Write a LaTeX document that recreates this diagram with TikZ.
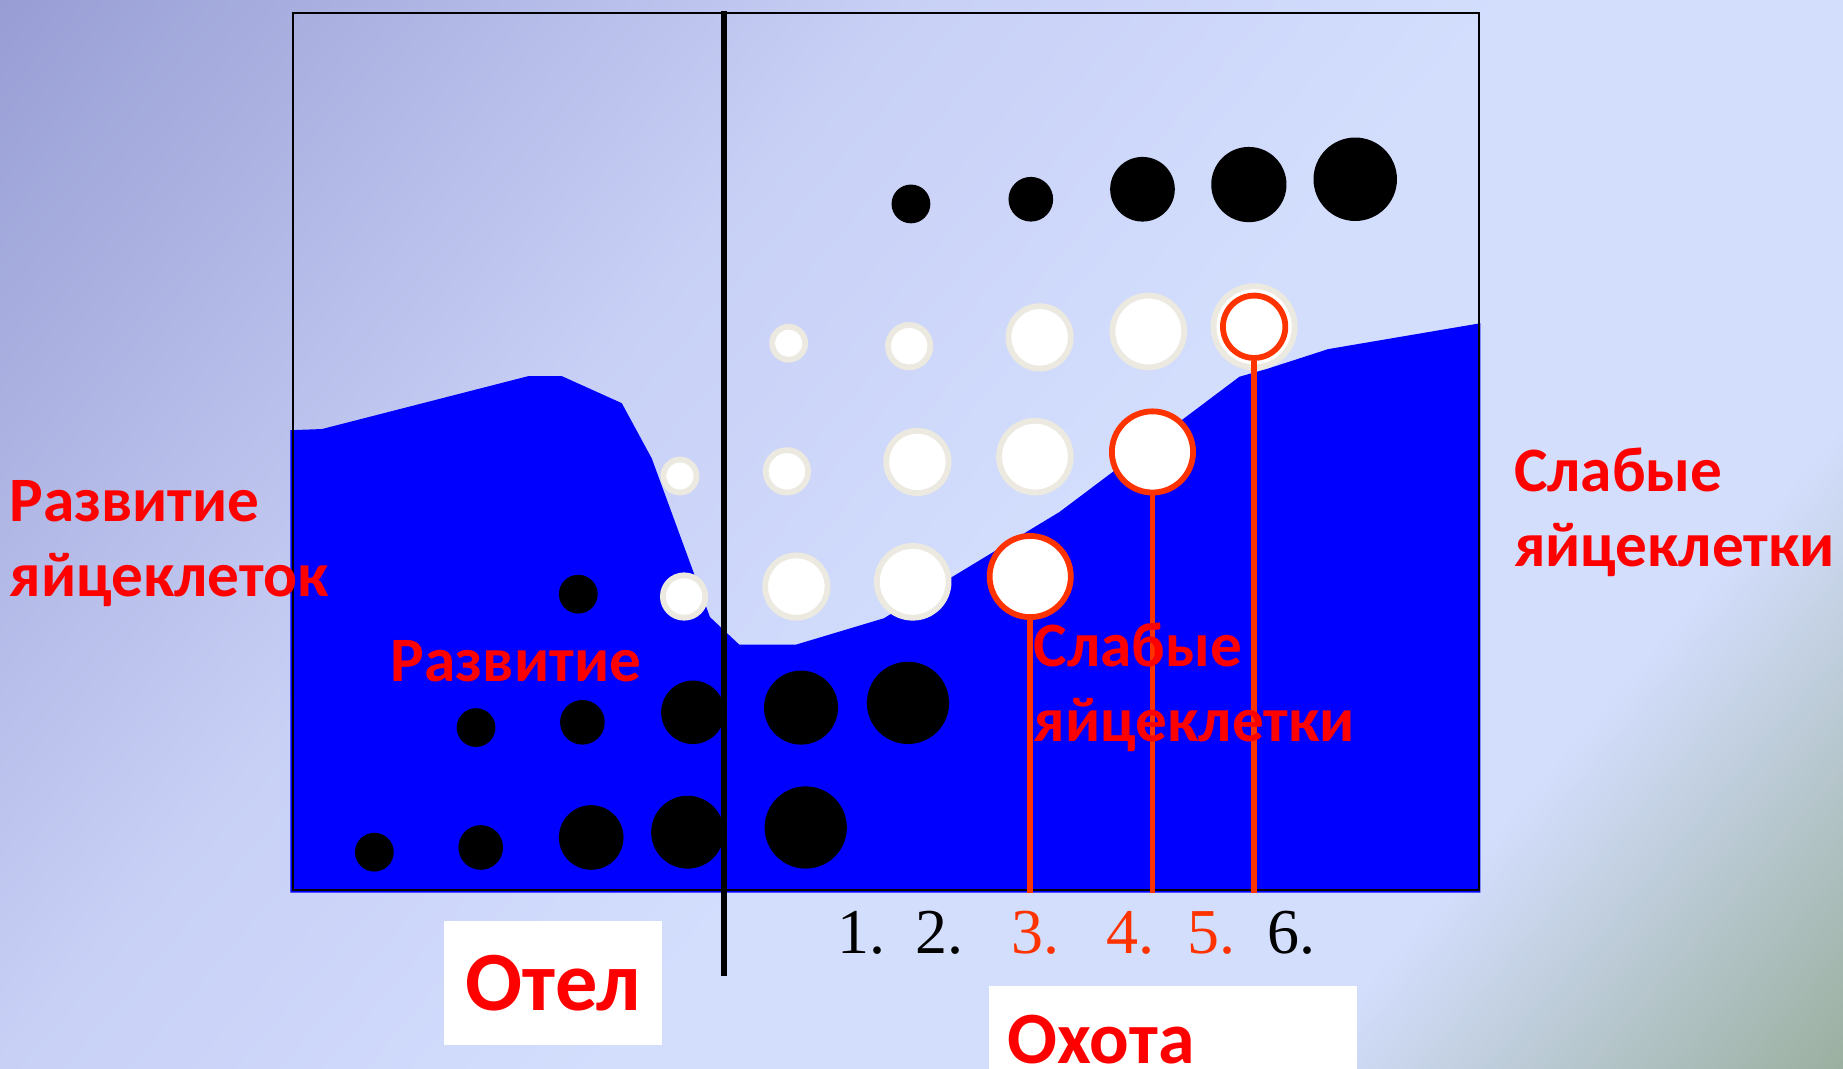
\documentclass[tikz,border=0pt]{standalone}
\usepackage{fontspec}
\setmainfont{Carlito}
\newfontfamily\numfont{Liberation Serif}
\usetikzlibrary{positioning}
\definecolor{bgdark}{RGB}{152,158,212}
\definecolor{bgmid}{RGB}{200,208,246}
\definecolor{bglight}{RGB}{211,222,253}
\definecolor{bgsage}{RGB}{155,176,160}
\definecolor{fluid}{RGB}{0,0,255}
\definecolor{ringgray}{RGB}{236,233,224}
\definecolor{eggred}{RGB}{255,51,0}
\definecolor{labelred}{RGB}{255,0,0}
\pgfdeclarehorizontalshading{paper}{100bp}{color(0bp)=(bgdark); color(25bp)=(bgdark);
  color(41.5bp)=(bgmid); color(52.5bp)=(bglight); color(65bp)=(bglight);
  color(75bp)=(bgsage); color(100bp)=(bgsage)}
\tikzset{
  egg/.style={circle, fill=black, inner sep=0pt, minimum size=#1*0.11754mm},
  weakegg/.style={circle, fill=white, draw=ringgray, line width=0.58mm, inner sep=0pt,
                  minimum size=#1*0.11754mm-0.58mm},
  redegg/.style={weakegg=#1, draw=eggred},
  stalk/.style={draw=eggred, line width=0.55mm},
  frameline/.style={draw=black, line width=0.2mm},
  divider/.style={draw=black, line width=0.6mm},
  tag/.style={font=\bfseries\fontsize{18}{21.3}\selectfont, text=labelred,
              inner sep=0pt, align=left, anchor=base west},
  num/.style={font=\numfont\fontsize{18.2}{20}\selectfont, inner sep=0pt, anchor=base},
  namebox/.style={fill=white, text=labelred, inner sep=0pt, text depth=0pt},
}
\begin{document}
\begin{tikzpicture}[x=0.11754mm, y=-0.11754mm]
\useasboundingbox (0,0) rectangle (1568,909);
\clip (0,0) rectangle (1568,909);

% ---------------- backdrop ----------------
\shade[shading=paper, shading angle=-40.5] (-107,-437) rectangle (1675,1346);

% ---------------- fluid level and frame ----------------
\fill[fluid] (247,759.5) -- (247,366) -- (274,365) -- (449.5,320) -- (478,320)
  -- (529,343) -- (554.5,390) -- (604,525) -- (629,548.5) -- (677,548.5)
  -- (752,526) -- (901.5,435.5) -- (1054.5,320.5) -- (1077.5,314) -- (1130,297)
  -- (1259.5,275) -- (1259.5,759.5) -- cycle;
\draw[frameline] (249,11) rectangle (1258,757.5);

% ---------------- eggs above the fluid ----------------
\node[egg=33] (t1) at (775,173.5) {};
\node[egg=38] (t2) at (877,169.5) {};
\node[egg=55] (t3) at (972,161) {};
\node[egg=64] (t4) at (1062.5,157) {};
\node[egg=71] (t5) at (1153,152.5) {};

% pale-rimmed eggs, three rows
\node[weakegg=33] (w11) at (671,292) {};
\node[weakegg=41] (w12) at (773.5,294.5) {};
\node[weakegg=58] (w13) at (884.5,287) {};
\node[weakegg=66] (w14) at (977,282) {};
\node[weakegg=74] (w15) at (1067,278) {};
\node[redegg=58] (r15) at (1067,278) {};

\node[weakegg=33] (w21) at (578.5,405) {};
\node[weakegg=41] (w22) at (669.5,401) {};
\node[weakegg=58] (w23) at (780.5,393) {};
\node[weakegg=66] (w24) at (880.5,388.5) {};
\node[redegg=74] (r25) at (980.5,384.5) {};

\node[weakegg=41] (w31) at (582,507.5) {};
\node[weakegg=58] (w32) at (677.5,499) {};
\node[weakegg=66] (w33) at (776.5,495) {};
\node[redegg=74] (r35) at (876.5,490.5) {};

% ---------------- eggs inside the fluid ----------------
\node[egg=33] (d1) at (492,505.5) {};

\node[egg=33] (d21) at (405,619) {};
\node[egg=38] (d22) at (495.5,614.5) {};
\node[egg=54] (d23) at (589.5,606) {};
\node[egg=63] (d24) at (681.5,602) {};
\node[egg=70] (d25) at (772.5,598) {};

\node[egg=33] (d31) at (318.5,725) {};
\node[egg=38] (d32) at (409,721) {};
\node[egg=55] (d33) at (503,712.5) {};
\node[egg=62] (d34) at (585,708) {};
\node[egg=70] (d35) at (685.5,704) {};

% stalks from the weak eggs down to the floor
\coordinate (f3) at (876.5,759.5);
\coordinate (f4) at (980.5,759.5);
\coordinate (f5) at (1067,759.5);
\draw[stalk] (r35.south) -- (f3);
\draw[stalk] (r25.south) -- (f4);
\draw[stalk] (r15.south) -- (f5);

% ---------------- labels ----------------
% base of a two-line tag sits on its last line
\node[tag] (growth) at (7.5,507.6) {Развитие\\яйцеклеток};
\node[tag] (weakout) at (1287.5,482.1) {Слабые\\яйцеклетки};
\node[tag] (growthin) at (332,580) {Развитие};
\node[tag] (weakin) at (879,631) {Слабые\\яйцеклетки};

\node[num] (n1) at (733,811) {1.};
\node[num] (n2) at (799,811) {2.};
\node[num, text=eggred] (n3) at (881,811) {3.};
\node[num, text=eggred] (n4) at (962,811) {4.};
\node[num, text=eggred] (n5) at (1031,811) {5.};
\node[num] (n6) at (1099,811) {6.};

% split between calving and hunting
\coordinate (dtop) at (616,9);
\coordinate (dbot) at (616,830);
\draw[divider] (dtop) -- (dbot);

\node[namebox, font=\bfseries\fontsize{24}{28}\selectfont, text height=5.5mm,
      minimum width=185.5*0.11754mm, minimum height=105.5*0.11754mm]
  (calving) at (470.5,836) {Отел};
\node[namebox, font=\bfseries\fontsize{21}{25}\selectfont, text height=4.7mm,
      anchor=north west, inner xsep=1.8mm, inner ysep=3.1mm,
      text width=33.2mm, align=left]
  (hunting) at (841,838) {Охота};
\end{tikzpicture}
\end{document}
